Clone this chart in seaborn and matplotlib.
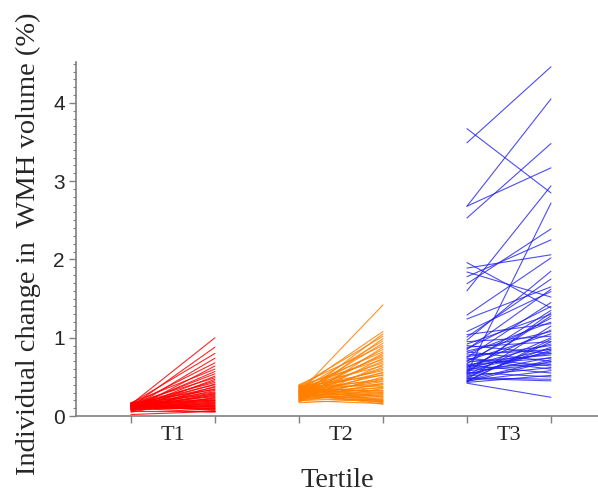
"""Spaghetti plot of individual WMH volume change by tertile."""

import matplotlib

matplotlib.use("Agg")
import matplotlib.pyplot as plt
import numpy as np
import pandas as pd
import seaborn as sns

# Values (start -> end for each subject)
t1_start = [0.15, 0.12, 0.16, 0.10, 0.14, 0.08, 0.17, 0.11, 0.13, 0.09,
            0.16, 0.07, 0.12, 0.15, 0.10, 0.14, 0.06, 0.13, 0.11, 0.17,
            0.09, 0.15, 0.12, 0.08, 0.16, 0.10, 0.14, 0.13, 0.05, 0.11,
            0.15, 0.12, 0.17, 0.09, 0.14, 0.10, 0.16, 0.07, 0.13, 0.11,
            0.15, 0.08, 0.12, 0.14, 0.10, 0.16, 0.13, 0.09, 0.11, 0.15,
            0.12, 0.14, 0.06, 0.10, 0.02]
t1_end = [1.00, 0.88, 0.80, 0.74, 0.68, 0.64, 0.60, 0.57, 0.54, 0.51,
          0.49, 0.47, 0.45, 0.43, 0.41, 0.40, 0.38, 0.37, 0.35, 0.34,
          0.33, 0.31, 0.30, 0.29, 0.28, 0.27, 0.26, 0.25, 0.24, 0.23,
          0.22, 0.21, 0.20, 0.20, 0.19, 0.18, 0.17, 0.17, 0.16, 0.15,
          0.14, 0.14, 0.13, 0.12, 0.12, 0.11, 0.10, 0.10, 0.09, 0.09,
          0.08, 0.07, 0.06, 0.05, 0.06]

t2_start = [0.30, 0.35, 0.25, 0.38, 0.22, 0.33, 0.28, 0.40, 0.19, 0.31,
            0.36, 0.24, 0.29, 0.34, 0.21, 0.39, 0.27, 0.32, 0.18, 0.37,
            0.26, 0.30, 0.35, 0.23, 0.33, 0.28, 0.38, 0.20, 0.31, 0.25,
            0.36, 0.29, 0.22, 0.34, 0.27, 0.39, 0.24, 0.32, 0.19, 0.30,
            0.35, 0.26, 0.37, 0.21, 0.33, 0.28, 0.23, 0.31, 0.38, 0.25,
            0.17, 0.34, 0.29, 0.22, 0.36, 0.27, 0.32, 0.20, 0.30, 0.26]
t2_end = [1.42, 1.08, 1.05, 1.02, 0.99, 0.96, 0.93, 0.90, 0.88, 0.85,
          0.82, 0.80, 0.78, 0.76, 0.74, 0.72, 0.70, 0.68, 0.66, 0.64,
          0.62, 0.60, 0.58, 0.56, 0.55, 0.53, 0.52, 0.50, 0.48, 0.47,
          0.45, 0.44, 0.42, 0.41, 0.40, 0.38, 0.37, 0.36, 0.35, 0.33,
          0.32, 0.31, 0.30, 0.29, 0.28, 0.27, 0.26, 0.25, 0.24, 0.23,
          0.22, 0.21, 0.20, 0.20, 0.19, 0.18, 0.17, 0.16, 0.15, 0.18]

t3_start = [3.49, 3.67, 2.68, 2.68, 2.53, 1.60, 0.55, 1.96, 1.89, 1.84,
            1.78, 1.69, 1.29, 1.24, 1.08, 1.01, 0.97, 0.92, 0.88, 0.85,
            0.82, 0.80, 0.78, 0.75, 0.73, 0.71, 0.69, 0.67, 0.65, 0.64,
            0.62, 0.60, 0.59, 0.57, 0.56, 0.54, 0.53, 0.51, 0.50, 0.48,
            0.47, 0.46, 0.45, 0.44, 0.43, 0.42, 0.90, 0.86, 0.76, 0.70,
            0.63, 0.58, 0.52, 0.49, 0.45, 0.55, 0.66, 0.74, 0.83, 0.61,
            0.44, 1.04, 0.95]
t3_end = [4.46, 2.85, 4.05, 3.17, 3.48, 2.94, 2.72, 1.38, 2.06, 1.52,
          2.25, 2.39, 2.02, 1.65, 1.59, 1.75, 1.85, 1.30, 0.95, 1.62,
          0.70, 1.20, 0.85, 1.45, 0.60, 1.05, 0.78, 1.35, 0.55, 0.92,
          1.10, 0.68, 0.82, 1.28, 0.50, 0.75, 1.00, 0.62, 0.88, 0.45,
          1.15, 0.72, 0.58, 0.98, 0.52, 0.24, 0.80, 1.40, 0.90, 1.25,
          0.80, 0.66, 0.84, 0.47, 0.95, 1.32, 0.74, 0.64, 1.08, 0.86,
          0.70, 1.18, 1.02]

groups = ["T1", "T2", "T3"]
x_pos = {"T1": (1, 2), "T2": (3, 4), "T3": (5, 6)}
colors = {"T1": "#ff0000", "T2": "#ff8000", "T3": "#2020f0"}

rows = []
for g, starts, ends in [("T1", t1_start, t1_end),
                        ("T2", t2_start, t2_end),
                        ("T3", t3_start, t3_end)]:
    for i, (s, e) in enumerate(zip(starts, ends)):
        uid = f"{g}_{i}"
        rows.append({"group": g, "subject": uid, "x": x_pos[g][0], "value": s})
        rows.append({"group": g, "subject": uid, "x": x_pos[g][1], "value": e})
df = pd.DataFrame(rows)

sns.set_theme(style="ticks")
plt.rcParams["font.family"] = ["Liberation Serif", "DejaVu Serif"]

fig = plt.figure(figsize=(5.98, 4.93), dpi=100)
ax = fig.add_axes([0.127, 0.156, 0.873, 0.718])

for g in groups:
    sns.lineplot(
        data=df[df["group"] == g],
        x="x",
        y="value",
        units="subject",
        estimator=None,
        color=colors[g],
        linewidth=0.8,
        alpha=0.8 if g == "T3" else 0.85,
        ax=ax,
        legend=False,
    )

ax.set_xlim(0.345, 6.56)
ax.set_ylim(0, 4.52)

grey = "#808080"
for side in ["top", "right"]:
    ax.spines[side].set_visible(False)
for side in ["left", "bottom"]:
    ax.spines[side].set_color(grey)
    ax.spines[side].set_linewidth(1.2)

ax.set_xticks([1, 2, 3, 4, 5, 6])
ax.set_xticklabels([])
ax.set_xticks([1.5, 3.5, 5.5], minor=True)
ax.set_xticklabels(groups, minor=True, fontsize=16)
ax.tick_params(axis="x", which="major", length=5, width=1, color=grey)
ax.tick_params(axis="x", which="minor", length=0, pad=7)

ax.set_yticks([0, 1, 2, 3, 4])
ax.set_yticks(np.arange(0, 4.51, 0.1), minor=True)
ax.set_yticklabels(["0", "1", "2", "3", "4"], family=["Liberation Sans"], fontsize=15)
ax.tick_params(axis="y", which="major", length=5, width=1, color=grey, pad=3)
ax.tick_params(axis="y", which="minor", length=2.5, width=0.8, color=grey)

ax.set_xlabel("Tertile", fontsize=20.5, labelpad=17)
ax.set_ylabel("Individual change in  WMH volume (%)", fontsize=20.5, labelpad=9)
ax.yaxis.label.set_y(0.487)

fig.savefig("out.png", dpi=100)
